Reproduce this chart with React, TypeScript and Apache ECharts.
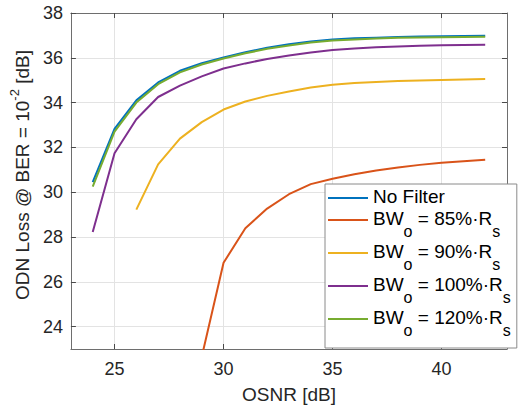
import React, { useEffect, useRef } from "react";
import * as echarts from "echarts";

const osnrAll = [24, 25, 26, 27, 28, 29, 30, 31, 32, 33, 34, 35, 36, 37, 38, 39, 40, 41, 42];
const noFilter = [30.45, 32.83, 34.1, 34.9, 35.42, 35.76, 36.01, 36.25, 36.45, 36.6, 36.73, 36.82, 36.87, 36.9, 36.93, 36.95, 36.96, 36.97, 36.98];
const osnr85 = [29, 30, 31, 32, 33, 34, 35, 36, 37, 38, 39, 40, 41, 42];
const bw85 = [22.65, 26.85, 28.39, 29.27, 29.91, 30.36, 30.6, 30.8, 30.97, 31.1, 31.22, 31.31, 31.38, 31.45];
const osnr90 = [26, 27, 28, 29, 30, 31, 32, 33, 34, 35, 36, 37, 38, 39, 40, 41, 42];
const bw90 = [29.22, 31.24, 32.39, 33.13, 33.69, 34.05, 34.3, 34.5, 34.67, 34.8, 34.87, 34.92, 34.96, 34.99, 35.01, 35.03, 35.05];
const bw100 = [28.22, 31.74, 33.26, 34.25, 34.76, 35.17, 35.52, 35.75, 35.95, 36.1, 36.24, 36.35, 36.42, 36.47, 36.51, 36.54, 36.56, 36.57, 36.58];
const bw120 = [30.25, 32.7, 34.0, 34.82, 35.35, 35.7, 35.97, 36.2, 36.4, 36.55, 36.68, 36.77, 36.82, 36.86, 36.89, 36.91, 36.92, 36.93, 36.94];

const seriesNames = ["No Filter", "BWo = 85%·Rs", "BWo = 90%·Rs", "BWo = 100%·Rs", "BWo = 120%·Rs"];
const legendPercents = ["", "85%", "90%", "100%", "120%"];
const colors = ["#0072BD", "#D95319", "#EDB120", "#7E2F8E", "#77AC30"];
const xTicks = [25, 30, 35, 40];
const yTicks = [24, 26, 28, 30, 32, 34, 36, 38];

const FONT = "Arial, 'Liberation Sans', sans-serif";
const TXT = "#262626";

function pair(xs: number[], ys: number[]) {
  return xs.map((x, i) => [x, ys[i]]);
}

export default function App() {
  const ref = useRef<HTMLDivElement>(null);
  useEffect(() => {
    if (!ref.current) return;
    const chart = echarts.init(ref.current, undefined, { renderer: "svg" });
    const dataSets = [
      pair(osnrAll, noFilter),
      pair(osnr85, bw85),
      pair(osnr90, bw90),
      pair(osnrAll, bw100),
      pair(osnrAll, bw120),
    ];
    const axisLineStyle = { color: "#6e6e6e", width: 1 };
    const tickStyle = { color: "#4a4a4a", width: 1 };
    chart.setOption({
      animation: false,
      backgroundColor: "#ffffff",
      grid: { left: 68, right: 14, top: 13, bottom: 63, containLabel: false },
      xAxis: [
        {
          type: "value",
          min: 23,
          max: 43,
          name: "OSNR [dB]",
          nameLocation: "middle",
          nameGap: 36,
          nameTextStyle: { fontFamily: FONT, fontSize: 19, color: TXT },
          axisLine: { show: true, lineStyle: axisLineStyle },
          axisTick: { show: true, inside: true, length: 5, customValues: xTicks, lineStyle: tickStyle },
          axisLabel: { customValues: xTicks, fontFamily: FONT, fontSize: 18, color: TXT, margin: 11 },
          splitLine: { show: true, lineStyle: { color: "#e3e3e3", width: 1 } },
        },
        {
          type: "value",
          position: "top",
          min: 23,
          max: 43,
          axisLine: { show: true, lineStyle: axisLineStyle },
          axisTick: { show: true, inside: true, length: 5, customValues: xTicks, lineStyle: tickStyle },
          axisLabel: { show: false },
          splitLine: { show: false },
        },
      ],
      yAxis: [
        {
          type: "value",
          min: 23,
          max: 38,
          name: "{a|ODN Loss @ BER = 10}{sup|-2}{a| [dB]}",
          nameLocation: "middle",
          nameGap: 37,
          nameRotate: 90,
          nameTextStyle: {
            fontFamily: FONT,
            fontSize: 19,
            color: TXT,
            padding: [0, 0, 0, 12],
            rich: {
              a: { fontFamily: FONT, fontSize: 19, color: TXT, lineHeight: 24, verticalAlign: "bottom" },
              sup: { fontFamily: FONT, fontSize: 13, color: TXT, lineHeight: 24, verticalAlign: "top", padding: [0, 0, 6, 0] },
            },
          },
          axisLine: { show: true, lineStyle: axisLineStyle },
          axisTick: { show: true, inside: true, length: 5, customValues: yTicks, lineStyle: tickStyle },
          axisLabel: { customValues: yTicks, fontFamily: FONT, fontSize: 18, color: TXT, margin: 8 },
          splitLine: { show: true, lineStyle: { color: "#e3e3e3", width: 1 } },
        },
        {
          type: "value",
          position: "right",
          min: 23,
          max: 38,
          axisLine: { show: true, lineStyle: axisLineStyle },
          axisTick: { show: true, inside: true, length: 5, customValues: yTicks, lineStyle: tickStyle },
          axisLabel: { show: false },
          splitLine: { show: false },
        },
      ],
      legend: {
        orient: "vertical",
        left: 325,
        top: 184,
        backgroundColor: "#ffffff",
        borderColor: "#8a8a8a",
        borderWidth: 1,
        borderRadius: 0,
        padding: [3, 6, 10, 3],
        itemGap: 3,
        itemWidth: 40,
        itemHeight: 2,
        icon: "rect",
        data: seriesNames,
        textStyle: {
          fontFamily: FONT,
          fontSize: 19,
          color: "#000000",
          rich: {
            t: { fontFamily: FONT, fontSize: 19, color: "#000", lineHeight: 22, verticalAlign: "top" },
            sub: { fontFamily: FONT, fontSize: 16, color: "#000", lineHeight: 15, verticalAlign: "top", padding: [14, 0, 0, 0] },
          },
        },
        formatter: (name: string) => {
          const i = seriesNames.indexOf(name);
          if (i <= 0) return "{t|" + name + "}";
          return "{t|BW}{sub|o}{t| = " + legendPercents[i] + "·R}{sub|s}";
        },
      },
      series: dataSets.map((d, i) => ({
        name: seriesNames[i],
        type: "line",
        data: d,
        symbol: "none",
        showSymbol: false,
        clip: true,
        color: colors[i],
        lineStyle: { color: colors[i], width: 2 },
        itemStyle: { color: colors[i] },
        emphasis: { disabled: true },
      })),
    });
    return () => chart.dispose();
  }, []);
  return <div ref={ref} style={{ width: 521, height: 412, position: "absolute", left: 0, top: 0 }} />;
}
